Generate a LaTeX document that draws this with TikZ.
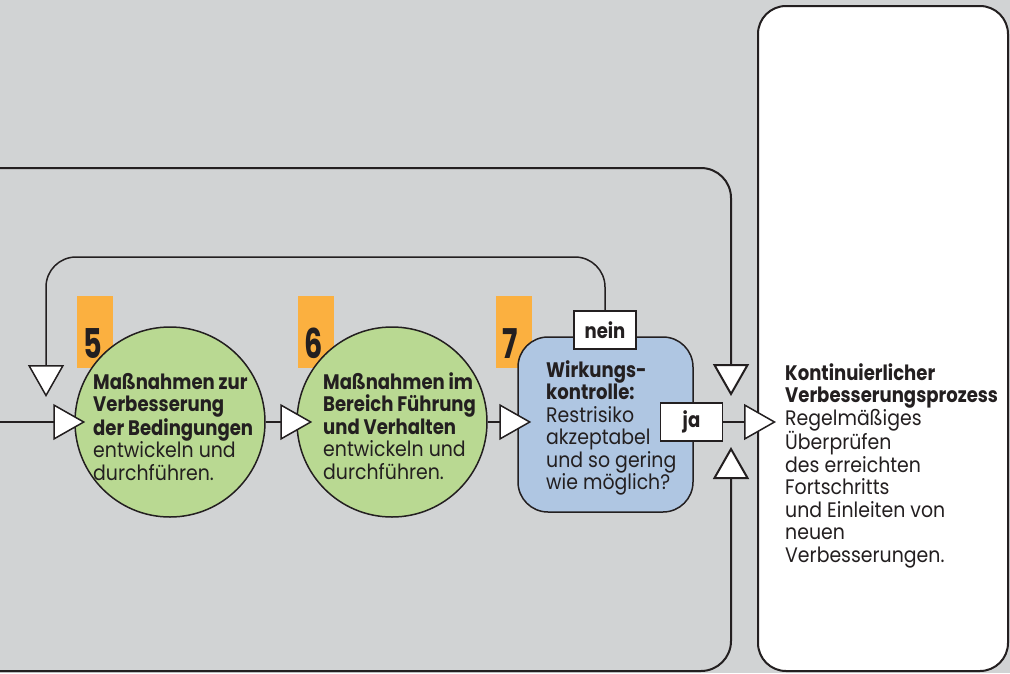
\documentclass[tikz,border=0pt]{standalone}
\usepackage{fontspec}
\setmainfont{Poppins}[FakeStretch=0.9]
\newfontfamily\bdfont{Poppins}[FakeStretch=0.86]
\newfontfamily\digitfont{Poppins}[FakeStretch=0.7]
\newcommand\B[1]{{\bdfont\bfseries #1}}
\usetikzlibrary{arrows.meta}
\definecolor{bg}{RGB}{209,211,212}
\definecolor{ink}{RGB}{35,31,32}
\definecolor{grn}{RGB}{185,217,146}
\definecolor{org}{RGB}{251,176,64}
\definecolor{blu}{RGB}{175,198,226}
\tikzset{
  ln/.style={draw=ink, line width=1.5pt},
  frame/.style={draw=ink, line width=2pt},
  tip/.style={-{Triangle[length=32pt,width=36pt,fill=white]}},
  txt/.style={anchor=base west, inner sep=0pt, text=ink, font=\fontsize{21}{22.5}\selectfont},
  num/.style={anchor=base west, inner sep=0pt, text=ink, font=\digitfont\bfseries\fontsize{41}{41}\selectfont},
  tag/.style={fill=org, draw=none},
  stepcircle/.style={circle, minimum size=190pt, inner sep=0pt, fill=grn, draw=ink, line width=1.5pt},
  lbl/.style={rectangle, draw=ink, line width=1.5pt, fill=white, minimum width=62pt, minimum height=38pt, inner sep=0pt, text=ink, font=\bdfont\bfseries\fontsize{21}{22.5}\selectfont}
}
\begin{document}
\begin{tikzpicture}[x=1pt,y=-1pt]
\fill[bg] (0,0) rectangle (1010,673);
\useasboundingbox (0,0) rectangle (1010,673);

% right box
\node[rectangle, rounded corners=28pt, minimum width=250pt, minimum height=665pt, fill=white, draw=ink, line width=2pt] (kvp) at (883,338.5) {};

% frame loop
\coordinate (ftl) at (-5,168);
\coordinate (ftr) at (731,168);
\coordinate (fdn) at (731,396);
\coordinate (fbl) at (-5,671);
\coordinate (fbr) at (731,671);
\coordinate (fup) at (731,447);
\draw[frame, tip, rounded corners=30pt] (ftl) -- (ftr) -- (fdn);
\draw[frame, tip, rounded corners=30pt] (fbl) -- (fbr) -- (fup);

% orange tags
\fill[tag] (77,296) rectangle (113,368);
\fill[tag] (298,296) rectangle (334,368);
\fill[tag] (496,296) rectangle (532,368);

% step nodes
\node[stepcircle] (c5) at (170,422) {};
\node[stepcircle] (c6) at (392,422) {};
\node[rectangle, rounded corners=30pt, minimum width=175pt, minimum height=175pt, fill=blu, draw=ink, line width=1.5pt] (b7) at (605.5,424.5) {};

\node[num] (n5) at (83,358) {5};
\node[num] (n6) at (304,358) {6};
\node[num] (n7) at (502,358) {7};

\node[lbl] (nein) at (605,330) {nein};
\node[lbl] (ja) at (691.5,422) {ja};

% connectors
\coordinate (in) at (0,422);
\coordinate (fbc) at (46,257);
\coordinate (fbe) at (46,397);
\draw[ln, tip, shorten >=-11pt] (in) -- (c5);
\draw[ln, tip, shorten >=-16pt] (c5) -- (c6);
\draw[ln, tip, shorten >=-14pt] (c6.east) -- (c6.east -| b7.west);
\draw[ln, tip, shorten >=-19pt] (ja.east) -- (ja.east -| kvp.west);
\draw[ln, tip, rounded corners=30pt] (nein.north) |- (fbc) -- (fbe);

% texts
\node[txt] (t5) at (93,389) {\parbox[t]{200pt}{\raggedright\B{Maßnahmen zur}\\\B{Verbesserung}\\\B{der Bedingungen}\\entwickeln und\\durchführen.}};
\node[txt] (t6) at (323,389) {\parbox[t]{200pt}{\raggedright\B{Maßnahmen im}\\\B{Bereich Führung}\\\B{und Verhalten}\\entwickeln und\\durchführen.}};
\node[txt] (t7) at (546,377) {\parbox[t]{200pt}{\raggedright\B{Wirkungs-}\\\B{kontrolle:}\\Restrisiko\\akzeptabel\\und so gering\\wie möglich?}};
\node[txt] (tk) at (785,380) {\parbox[t]{222pt}{\raggedright\B{Kontinuierlicher}\\\B{Verbesserungsprozess}\\Regelmäßiges\\Überprüfen\\des erreichten\\Fortschritts\\und Einleiten von\\neuen\\Verbesserungen.}};
\end{tikzpicture}
\end{document}
